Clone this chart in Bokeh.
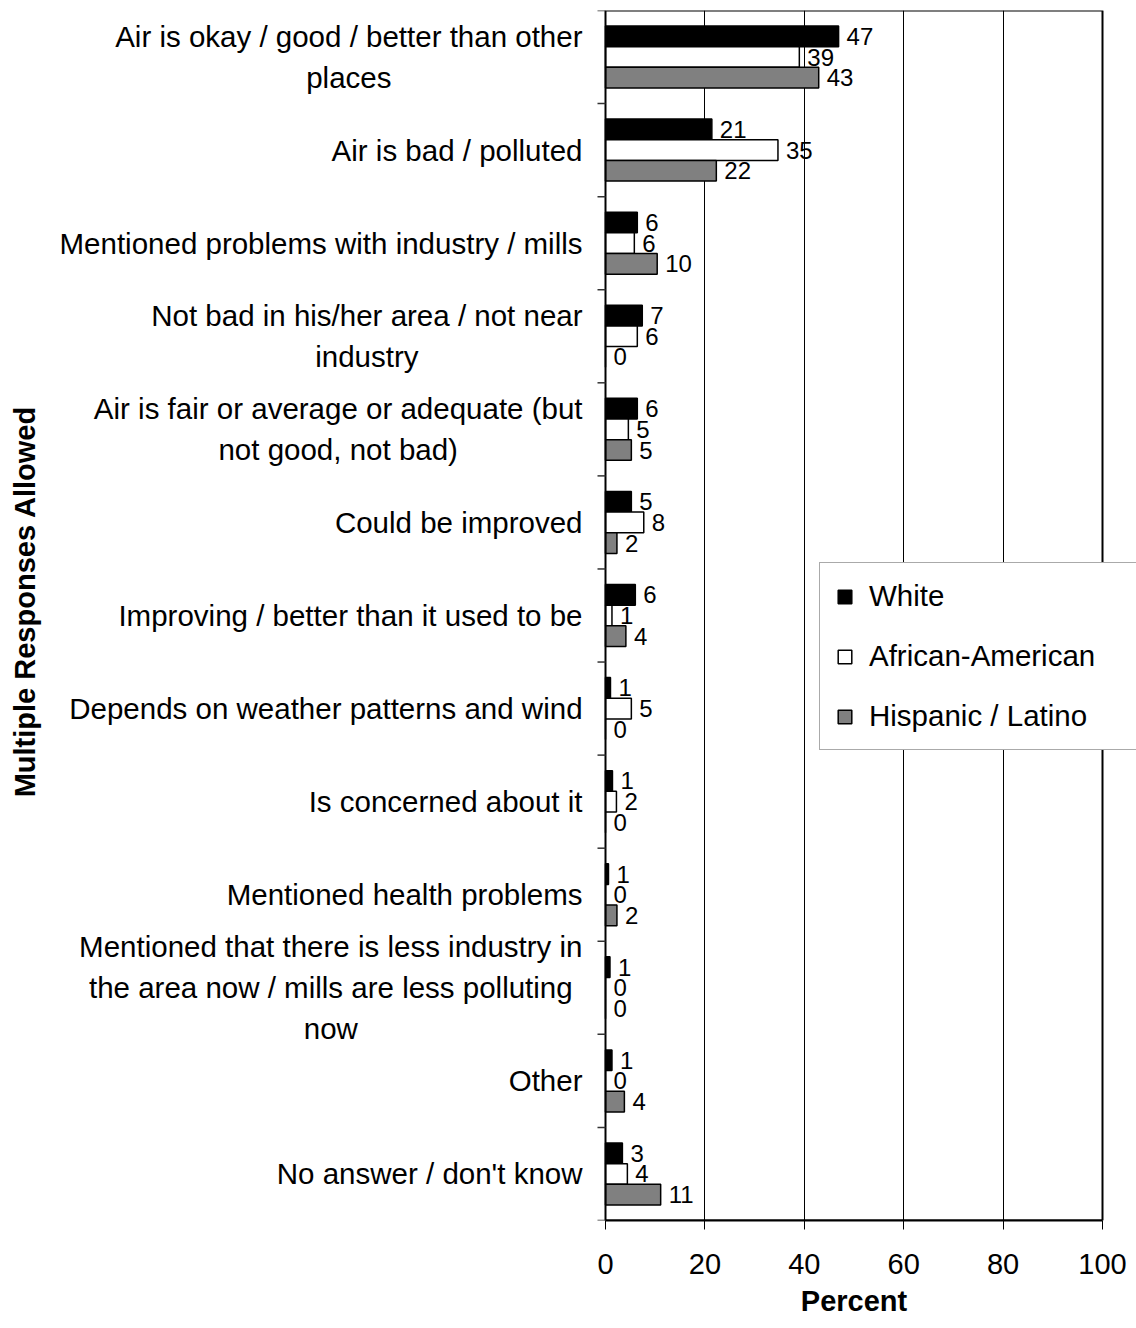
import math
from bokeh.plotting import figure
from bokeh.models import (Range1d, LinearAxis, FixedTicker, Grid, Legend,
                          LegendItem, ColumnDataSource, Title)
from bokeh.core.properties import value
from bokeh.embed import file_html
from bokeh.resources import INLINE

# ---------------- data ----------------
categories = [
    "Air is okay / good / better than other\nplaces",
    "Air is bad / polluted",
    "Mentioned problems with industry / mills",
    "Not bad in his/her area / not near\nindustry",
    "Air is fair or average or adequate (but\nnot good, not bad)",
    "Could be improved",
    "Improving / better than it used to be",
    "Depends on weather patterns and wind",
    "Is concerned about it",
    "Mentioned health problems",
    "Mentioned that there is less industry in\nthe area now / mills are less polluting\nnow",
    "Other",
    "No answer / don't know",
]
white = [46.9, 21.4, 6.4, 7.4, 6.4, 5.2, 6.0, 1.0, 1.4, 0.6, 0.9, 1.3, 3.4]
african_american = [39.0, 34.7, 5.8, 6.4, 4.6, 7.7, 1.3, 5.2, 2.2, 0.0, 0.0, 0.0, 4.4]
hispanic = [42.9, 22.3, 10.4, 0.0, 5.2, 2.3, 4.1, 0.0, 0.0, 2.3, 0.0, 3.8, 11.1]
series_names = ["White", "African-American", "Hispanic / Latino"]
x_ticks = [0, 20, 40, 60, 80, 100]
x_title = "Percent"
y_title = "Multiple Responses Allowed"

# ---------------- layout constants ----------------
W, H = 1136, 1323
PX = 4.97            # pixels per percent
ZERO = 605           # px from frame left to x=0
FONT = "Liberation Sans"
LBL_SIZE = 29.5
N = len(categories)
X_MAX = x_ticks[-1]

# Arial / Liberation Sans advance widths (1/1000 em)
_W = {' ': 278, "'": 191, '(': 333, ')': 333, ',': 278, '-': 333, '/': 278,
      'A': 667, 'B': 667, 'C': 722, 'D': 722, 'E': 667, 'F': 611, 'G': 778,
      'H': 722, 'I': 278, 'J': 500, 'K': 667, 'L': 556, 'M': 833, 'N': 722,
      'O': 778, 'P': 667, 'Q': 778, 'R': 722, 'S': 667, 'T': 611, 'U': 722,
      'V': 667, 'W': 944, 'X': 667, 'Y': 667, 'Z': 611,
      'a': 556, 'b': 556, 'c': 500, 'd': 556, 'e': 556, 'f': 278, 'g': 556,
      'h': 556, 'i': 222, 'j': 222, 'k': 500, 'l': 222, 'm': 833, 'n': 556,
      'o': 556, 'p': 556, 'q': 556, 'r': 333, 's': 500, 't': 278, 'u': 556,
      'v': 500, 'w': 722, 'x': 500, 'y': 500, 'z': 500}
# Arial Bold widths for the x title
_WB = {'P': 667, 'e': 556, 'r': 389, 'c': 556, 'n': 611, 't': 333}


def text_width(s, size, table=_W):
    return max(sum(table.get(c, 556) for c in line) for line in s.split("\n")) * size / 1000.0


x_range = Range1d(-ZERO / PX, (W - ZERO) / PX)
y_range = Range1d(0, N)

p = figure(width=W, height=H, x_range=x_range, y_range=y_range,
           output_backend="svg", toolbar_location=None,
           x_axis_type=None, y_axis_type=None,
           min_border_left=0, min_border_right=0,
           min_border_top=10, min_border_bottom=103)
p.outline_line_color = None
p.background_fill_color = "white"
p.border_fill_color = "white"

# vertical gridlines
grid = Grid(dimension=0, ticker=FixedTicker(ticks=x_ticks[1:-1]),
            grid_line_color="black", grid_line_width=1)
p.add_layout(grid)

# bottom axis
xaxis = LinearAxis(ticker=FixedTicker(ticks=x_ticks), bounds=(0, X_MAX))
xaxis.axis_line_color = "black"
xaxis.axis_line_width = 2
xaxis.major_tick_line_color = "black"
xaxis.major_tick_out = 9
xaxis.major_tick_in = 0
xaxis.minor_tick_line_color = None
xaxis.major_label_text_font = FONT
xaxis.major_label_text_font_size = "29px"
xaxis.major_label_text_color = "black"
xaxis.major_label_standoff = 24
p.add_layout(xaxis, "below")

# x-axis title, centred under the 0..100 span
title_off = ZERO + X_MAX / 2 * PX - text_width(x_title, 29, _WB) / 2
p.add_layout(Title(text=x_title, align="left", offset=title_off,
                   text_font=FONT, text_font_size="29px",
                   text_font_style="bold", text_color="black",
                   standoff=12), "below")

# category centres (top to bottom)
centers = [N - i - 0.5 for i in range(N)]
BH = 0.222
offsets = [BH, 0.0, -BH]
fills = ["black", "white", "#808080"]
renderers = []
for vals, off, fc in zip([white, african_american, hispanic], offsets, fills):
    src = ColumnDataSource(dict(
        y=[c + off for c in centers],
        right=vals,
        lx=[v + 8 / PX for v in vals],
        lbl=[str(int(round(v))) for v in vals],
    ))
    r = p.hbar(y="y", left=0, right="right", height=BH, source=src,
               fill_color=fc, line_color="black", line_width=1.5)
    renderers.append(r)
    p.text(x="lx", y="y", text="lbl", source=src,
           text_font=value(FONT), text_font_size="24px", text_color="black",
           text_align="left", text_baseline="middle")

# plot-area border
p.quad(left=[0], right=[X_MAX], bottom=[0], top=[N], fill_color=None,
       line_color="black", line_width=2)

# y ticks at category boundaries
tick_len = 8 / PX
p.segment(x0=[-tick_len] * (N + 1), x1=[0] * (N + 1),
          y0=list(range(N + 1)), y1=list(range(N + 1)),
          line_color="#333333", line_width=1.5)

# category labels (right edge at 23 px left of zero, lines centred)
right_edge = -23 / PX
lab_x = [right_edge - text_width(c, LBL_SIZE) / 2 / PX for c in categories]
p.text(x=lab_x, y=centers, text=categories,
       text_font=value(FONT), text_font_size=f"{LBL_SIZE}px",
       text_color="black", text_align="center", text_baseline="middle",
       text_line_height=1.24)

# y title
p.text(x=[(24 - ZERO) / PX], y=[N / 2 + 0.15], text=[y_title], angle=math.pi / 2,
       text_font=value(FONT), text_font_size="29px", text_font_style="bold",
       text_color="black", text_align="center", text_baseline="middle")

legend = Legend(items=[LegendItem(label=n, renderers=[r])
                       for n, r in zip(series_names, renderers)],
                location=(819, 470))
legend.label_text_font = FONT
legend.label_text_font_size = "29.5px"
legend.label_text_color = "black"
legend.glyph_width = 17
legend.glyph_height = 17
legend.label_standoff = 16
legend.spacing = 26
legend.padding = 16
legend.margin = 0
legend.label_width = 270
legend.border_line_color = "#555555"
legend.border_line_width = 1
legend.background_fill_color = "white"
legend.background_fill_alpha = 1.0
p.add_layout(legend, "center")

open("out.html", "w").write(file_html(p, INLINE))
